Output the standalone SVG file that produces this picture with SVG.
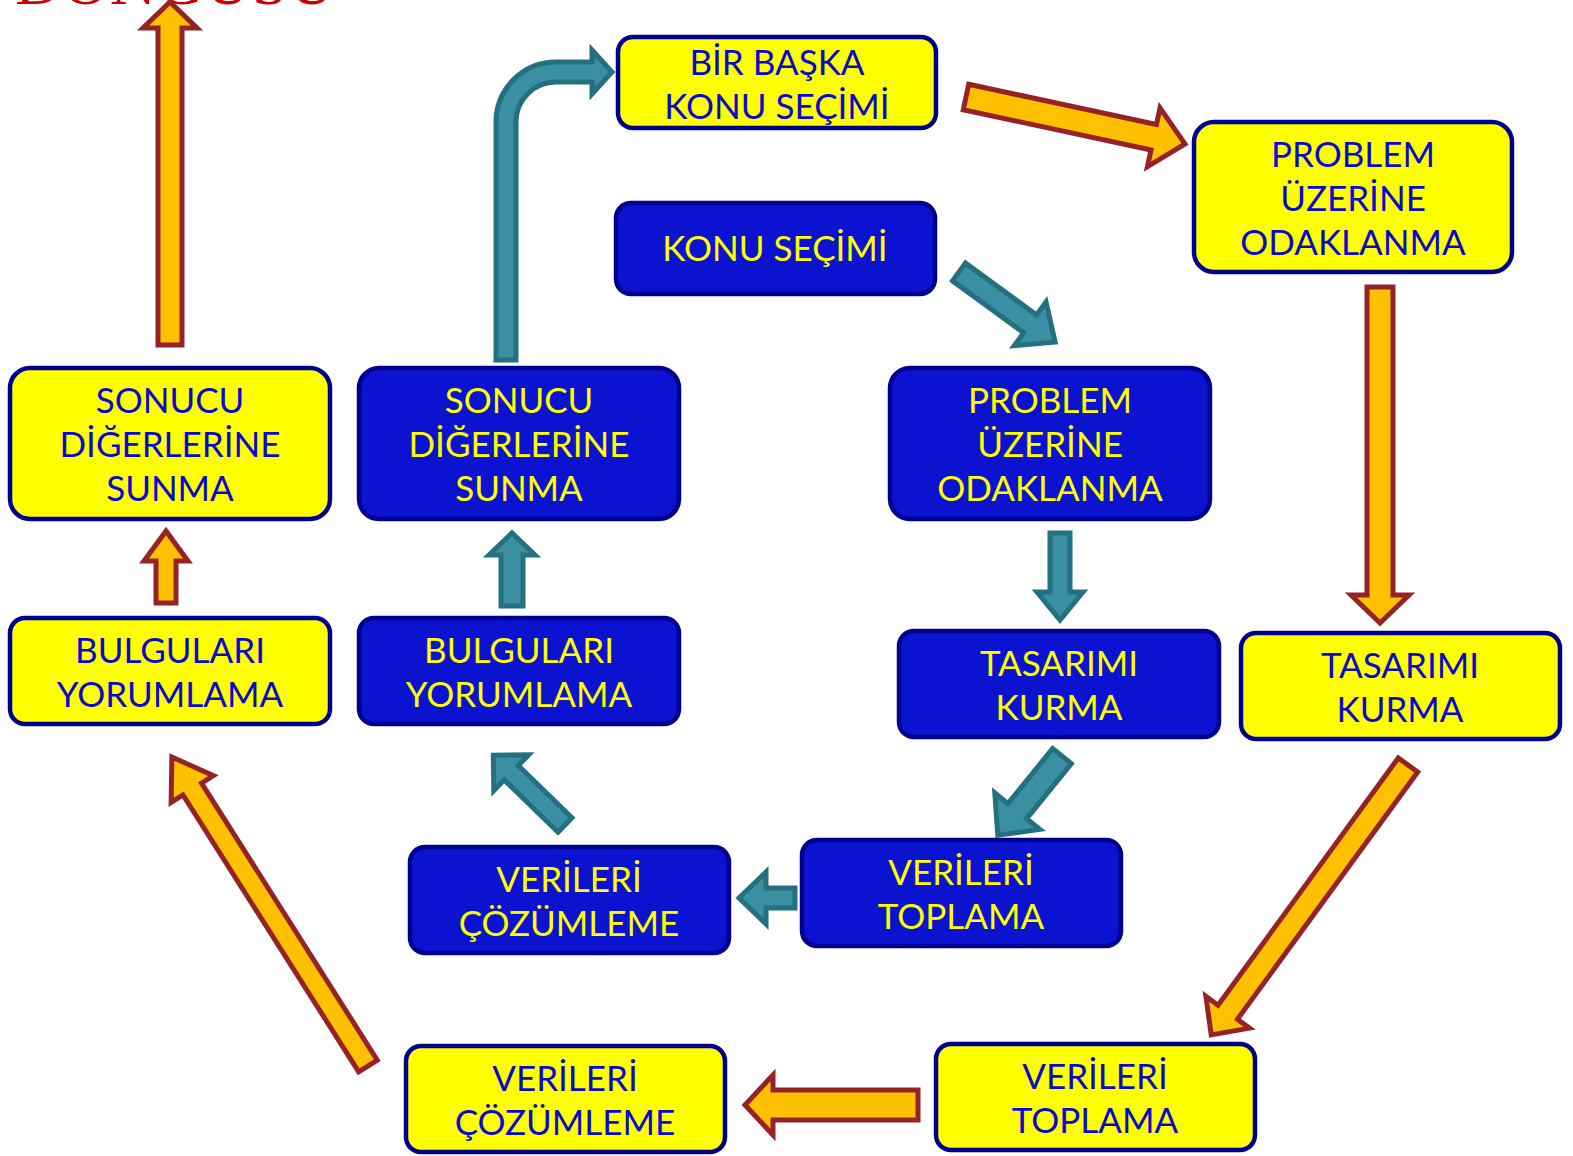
<svg xmlns="http://www.w3.org/2000/svg" width="1573" height="1156" viewBox="0 0 1573 1156">
<style>
.ny rect{fill:#FFFF00;stroke:#00008E;stroke-width:4.5}
.nb rect{fill:#0B13D0;stroke:#00008E;stroke-width:4.5}
text{font-family:Lato,"Open Sans","DejaVu Sans",sans-serif;font-size:35px;text-anchor:middle}
.ny text{fill:#0A0ACC}
.nb text{fill:#FFFF00}
.ay{fill:#FFC000;stroke:#952224;stroke-width:5;stroke-linejoin:miter}
.at{fill:#3A8FA3;stroke:#24707E;stroke-width:5;stroke-linejoin:miter}
.title{font-family:"Liberation Serif",serif;font-size:64px;fill:#CC0000;text-anchor:start}
</style>
<text class="title" x="15" y="4" textLength="320">DÖNGÜSÜ</text>
<g id="connectors">
<polygon class="ay" transform="translate(170,345) rotate(-90)" points="0,-12 317,-12 317,-27 343,0 317,27 317,12 0,12"/>
<polygon class="ay" transform="translate(166,603) rotate(-90)" points="0,-10 42,-10 42,-22 72,0 42,22 42,10 0,10"/>
<polygon class="ay" transform="translate(368,1066) rotate(-122.4)" points="0,-11 328,-11 328,-25 366,0 328,25 328,11 0,11"/>
<polygon class="ay" transform="translate(918,1105) rotate(180)" points="0,-15 145,-15 145,-30 173,0 145,30 145,15 0,15"/>
<polygon class="ay" transform="translate(1408,765) rotate(126.1)" points="0,-12 306,-12 306,-27 334,0 306,27 306,12 0,12"/>
<polygon class="ay" transform="translate(1380,287) rotate(90)" points="0,-13 308,-13 308,-29 336,0 308,29 308,13 0,13"/>
<polygon class="ay" transform="translate(966,97) rotate(12.1)" points="0,-13 192,-13 192,-30 224,0 192,30 192,13 0,13"/>
<path class="at" d="M496,360 L496,122 A60,60 0 0 1 556,62 L592,62 L592,50 L612,72 L592,94 L592,82 L556,82 A40,40 0 0 0 516,122 L516,360 Z"/>
<polygon class="at" transform="translate(959,272) rotate(36.1)" points="0,-11 88,-11 88,-27 119,0 88,27 88,11 0,11"/>
<polygon class="at" transform="translate(1060,533) rotate(90)" points="0,-10 59,-10 59,-23 87,0 59,23 59,10 0,10"/>
<polygon class="at" transform="translate(1062,756) rotate(129)" points="0,-12 71,-12 71,-29 102,0 71,29 71,12 0,12"/>
<polygon class="at" transform="translate(795,898) rotate(180)" points="0,-10 29,-10 29,-26 56,0 29,26 29,10 0,10"/>
<polygon class="at" transform="translate(565,825) rotate(-135.8)" points="0,-10 75,-10 75,-25 100,0 75,25 75,10 0,10"/>
<polygon class="at" transform="translate(512,606) rotate(-90)" points="0,-11 51,-11 51,-23 73,0 51,23 51,11 0,11"/>
</g>
<g id="n-bir-baska" class="ny"><rect x="618" y="37" width="318" height="91" rx="15"/><text x="777" y="75">BİR BAŞKA</text><text x="777" y="119">KONU SEÇİMİ</text></g>
<g id="n-problem-y" class="ny"><rect x="1194" y="122" width="318" height="150" rx="20"/><text x="1353" y="167">PROBLEM</text><text x="1353" y="211">ÜZERİNE</text><text x="1353" y="255">ODAKLANMA</text></g>
<g id="n-konu" class="nb"><rect x="616" y="203" width="319" height="91" rx="15"/><text x="775" y="261">KONU SEÇİMİ</text></g>
<g id="n-problem-b" class="nb"><rect x="890" y="368" width="320" height="151" rx="20"/><text x="1050" y="413">PROBLEM</text><text x="1050" y="457">ÜZERİNE</text><text x="1050" y="501">ODAKLANMA</text></g>
<g id="n-sonucu-y" class="ny"><rect x="10" y="368" width="320" height="151" rx="20"/><text x="170" y="413">SONUCU</text><text x="170" y="457">DİĞERLERİNE</text><text x="170" y="501">SUNMA</text></g>
<g id="n-sonucu-b" class="nb"><rect x="359" y="368" width="320" height="151" rx="20"/><text x="519" y="413">SONUCU</text><text x="519" y="457">DİĞERLERİNE</text><text x="519" y="501">SUNMA</text></g>
<g id="n-bulgu-y" class="ny"><rect x="10" y="618" width="320" height="106" rx="15"/><text x="170" y="663">BULGULARI</text><text x="170" y="707">YORUMLAMA</text></g>
<g id="n-bulgu-b" class="nb"><rect x="359" y="618" width="320" height="106" rx="15"/><text x="519" y="663">BULGULARI</text><text x="519" y="707">YORUMLAMA</text></g>
<g id="n-tasarim-b" class="nb"><rect x="899" y="631" width="320" height="106" rx="15"/><text x="1059" y="676">TASARIMI</text><text x="1059" y="720">KURMA</text></g>
<g id="n-tasarim-y" class="ny"><rect x="1241" y="633" width="319" height="106" rx="15"/><text x="1400" y="678">TASARIMI</text><text x="1400" y="722">KURMA</text></g>
<g id="n-cozum-b" class="nb"><rect x="410" y="847" width="319" height="106" rx="15"/><text x="569" y="892">VERİLERİ</text><text x="569" y="936">ÇÖZÜMLEME</text></g>
<g id="n-toplama-b" class="nb"><rect x="802" y="840" width="319" height="106" rx="15"/><text x="961" y="885">VERİLERİ</text><text x="961" y="929">TOPLAMA</text></g>
<g id="n-cozum-y" class="ny"><rect x="406" y="1046" width="319" height="106" rx="15"/><text x="565" y="1091">VERİLERİ</text><text x="565" y="1135">ÇÖZÜMLEME</text></g>
<g id="n-toplama-y" class="ny"><rect x="936" y="1044" width="319" height="106" rx="15"/><text x="1095" y="1089">VERİLERİ</text><text x="1095" y="1133">TOPLAMA</text></g>
</svg>
